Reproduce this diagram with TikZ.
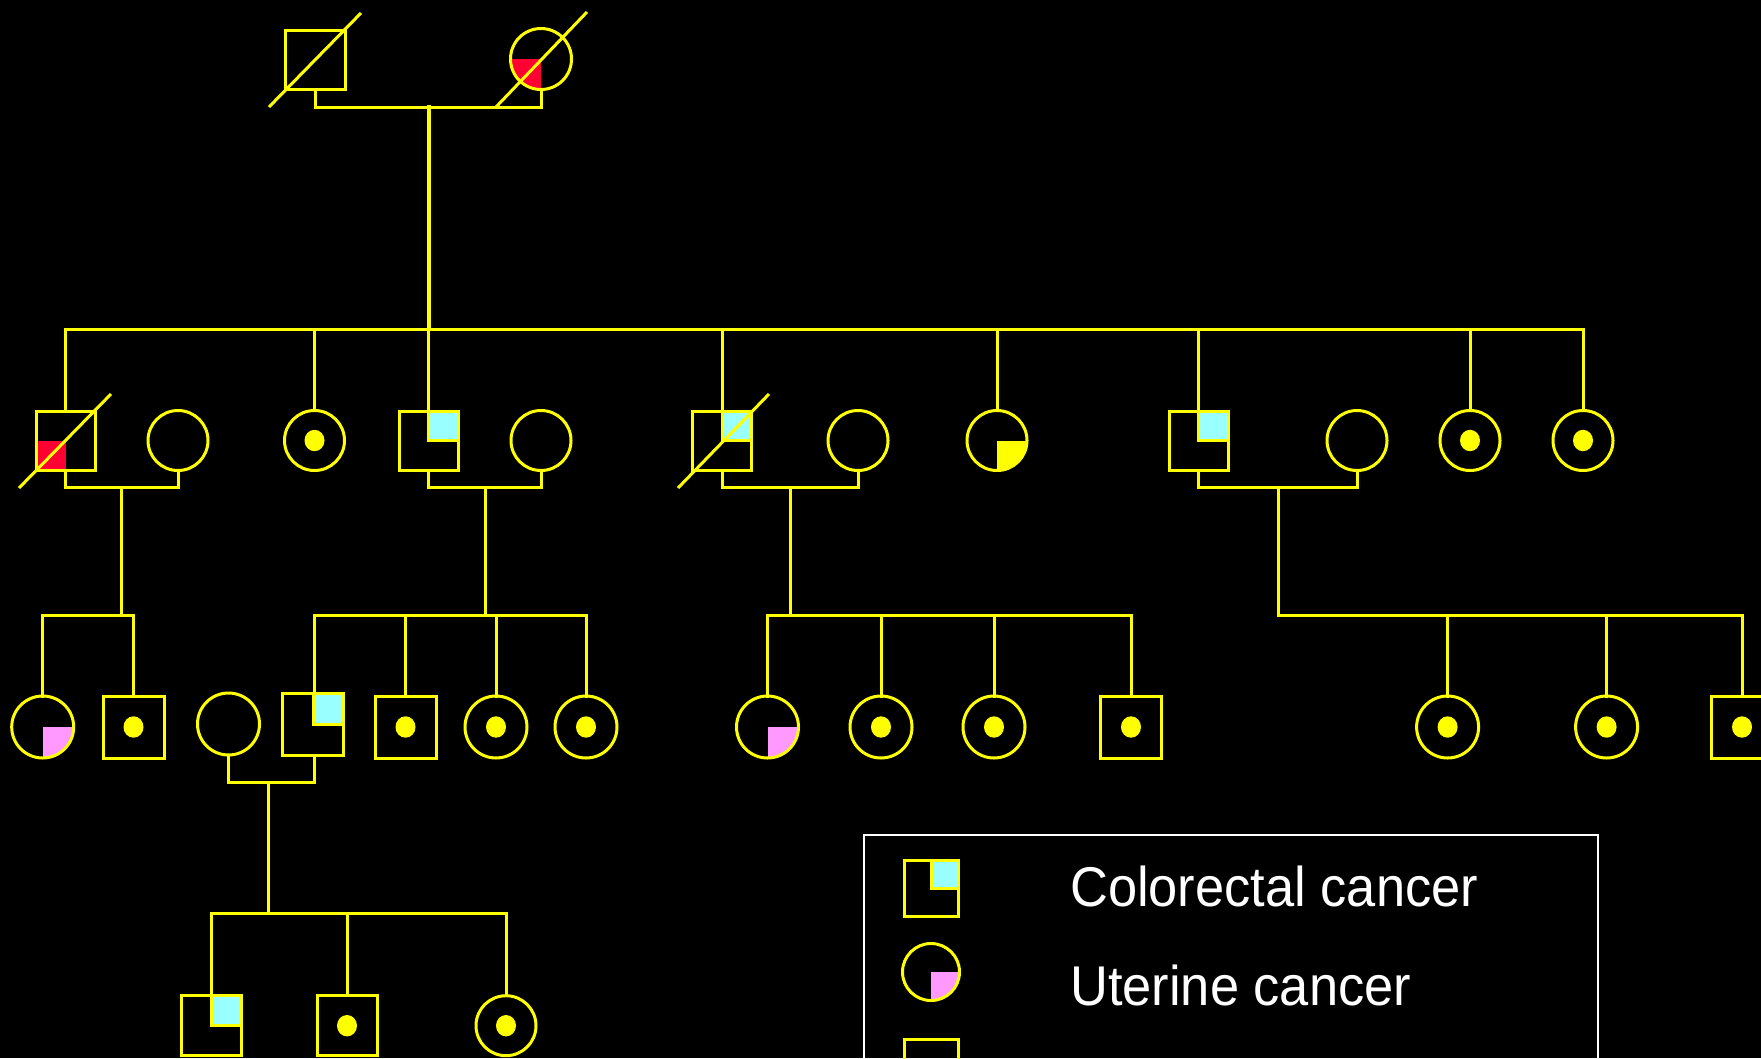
\documentclass[tikz,border=0pt]{standalone}
\usepackage{graphicx}
\usepackage{fontspec}
\newfontfamily\lsans{Liberation Sans}
\definecolor{ylw}{RGB}{255,255,0}
\definecolor{cyanc}{RGB}{153,255,255}
\definecolor{pinkc}{RGB}{255,153,255}
\definecolor{redc}{RGB}{255,0,51}
\begin{document}
\begin{tikzpicture}[x=1pt,y=-1pt,
  ln/.style={draw=ylw,line width=3pt,line cap=rect},
  dec/.style={draw=ylw,line width=3pt},
  base/.style={draw=ylw,line width=3pt,inner sep=0pt,outer sep=0pt},
  sq/.style={base,rectangle,minimum width=59pt,minimum height=59pt},
  ci/.style={base,circle,minimum size=60pt},
  sqb/.style={sq,minimum width=61pt,minimum height=62pt},
  cib/.style={ci,minimum size=62pt},
  affdot/.style={path picture={\fill[ylw] (path picture bounding box.center) circle[x radius=10pt,y radius=10.7pt];}},
  ccUR/.style={path picture={\draw[ylw,line width=3pt,fill=cyanc] (path picture bounding box.center) rectangle (path picture bounding box.north east);}},
  ucLR/.style={path picture={\fill[pinkc] (path picture bounding box.center) rectangle (path picture bounding box.south east);}},
  ylLR/.style={path picture={\fill[ylw] (path picture bounding box.center) rectangle (path picture bounding box.south east);}},
  redLL/.style={path picture={\fill[redc] (path picture bounding box.center) rectangle (path picture bounding box.south west);}},
  legtext/.style={anchor=base west,inner sep=0pt,text=white,font=\lsans\fontsize{56}{60}\selectfont}
]
\path[use as bounding box,fill=black] (0,0) rectangle (1761,1058);
\clip (0,0) rectangle (1761,1058);

% ---------- generation I
\node[sq,minimum width=60pt] (I1) at (315,59.5) {};
\node[ci,minimum size=61pt,redLL] (I2) at (541,59) {};
\draw[dec] ([shift={(-46,47.5)}]I1.center) -- ([shift={(46,-46.5)}]I1.center);
\draw[dec] ([shift={(-45,48)}]I2.center) -- ([shift={(46,-47)}]I2.center);

% ---------- generation II
\node[sq,redLL] (II1) at (65.5,440.5) {};
\node[ci] (II2) at (178,440.5) {};
\node[ci,affdot] (II3) at (314.5,440.5) {};
\node[sq,ccUR] (II4) at (428.5,440.5) {};
\node[ci] (II5) at (541,440.5) {};
\node[sq,ccUR] (II6) at (722,440.5) {};
\node[ci] (II7) at (858,440.5) {};
\node[ci,ylLR] (II8) at (997,440.5) {};
\node[sq,ccUR] (II9) at (1198.5,440.5) {};
\node[ci] (II10) at (1357,440.5) {};
\node[ci,affdot] (II11) at (1470,440.5) {};
\node[ci,affdot] (II12) at (1583,440.5) {};
\draw[dec] ([shift={(-46.5,47.5)}]II1.center) -- ([shift={(45.5,-46.5)}]II1.center);
\draw[dec] ([shift={(-44,47.5)}]II6.center) -- ([shift={(47,-46.5)}]II6.center);

% ---------- generation III
\node[cib,ucLR] (III1) at (42.7,727) {};
\node[sqb,affdot] (III2) at (133.5,727) {};
\node[cib] (III3) at (228.5,724) {};
\node[sqb,ccUR] (III4) at (313,724.5) {};
\node[sqb,affdot] (III5) at (405.5,727) {};
\node[cib,affdot] (III6) at (496,727) {};
\node[cib,affdot] (III7) at (586,727) {};
\node[cib,ucLR] (III8) at (767.5,727) {};
\node[cib,affdot] (III9) at (881,727) {};
\node[cib,affdot] (III10) at (994,727) {};
\node[sqb,affdot] (III11) at (1131,727) {};
\node[cib,affdot] (III12) at (1447.6,727) {};
\node[cib,affdot] (III13) at (1606.6,727) {};
\node[sqb,affdot] (III14) at (1742,727) {};

% ---------- generation IV
\node[sq,minimum width=60pt,minimum height=60pt,ccUR] (IV1) at (211,1025.7) {};
\node[sq,minimum width=60pt,minimum height=60pt,affdot] (IV2) at (347,1025.7) {};
\node[ci,affdot] (IV3) at (506,1025.7) {};

% ---------- connectors
\coordinate (cI) at (429,107);
\coordinate (g2) at (0,329);
\coordinate (g3) at (0,615.5);
\coordinate (g4) at (0,913);
\draw[ln] (I1.south) -- ++(0,18) -| (I2.south);
\draw[ln,line width=4.5pt] (cI) -- (cI |- g2);
\draw[ln] (II1.north |- g2) -- (II12.north |- g2);
\foreach \n in {II1,II3,II4,II6,II8,II9,II11,II12}
  \draw[ln] (\n.north) -- (\n.north |- g2);

\draw[ln] (II1.south) -- ++(0,17.5) -| (II2.south);
\draw[ln] (II4.south) -- ++(0,17.5) -| (II5.south);
\draw[ln] (II6.south) -- ++(0,17.5) -| (II7.south);
\draw[ln] (II9.south) -- ++(0,17.5) -| (II10.south);
\coordinate (cA) at (121.5,488);
\coordinate (cD) at (485,488);
\coordinate (cF) at (790.7,488);
\coordinate (cJ) at (1278.6,488);

\draw[ln] (cA) -- (cA |- g3);
\draw[ln] (III1.north) -- (III1.north |- g3) -- (III2.north |- g3) -- (III2.north);

\draw[ln] (cD) -- (cD |- g3);
\draw[ln] ([xshift=1.5pt]III4.north) -- ([xshift=1.5pt]III4.north |- g3) -- (III7.north |- g3) -- (III7.north);
\foreach \n in {III5,III6}
  \draw[ln] (\n.north) -- (\n.north |- g3);

\draw[ln] (cF) -- (cF |- g3);
\draw[ln] (III8.north) -- (III8.north |- g3) -- (III11.north |- g3) -- (III11.north);
\foreach \n in {III9,III10}
  \draw[ln] (\n.north) -- (\n.north |- g3);

\draw[ln] (cJ) -- (cJ |- g3) -- (III14.north |- g3) -- (III14.north);
\foreach \n in {III12,III13}
  \draw[ln] (\n.north) -- (\n.north |- g3);

\draw[ln] (III3.south) -- ++(0,27) -| ([xshift=1.5pt]III4.south);
\coordinate (cM) at (268,782);
\draw[ln] (cM) -- (cM |- g4);
\draw[ln] (IV1.north) -- (IV1.north |- g4) -- (IV3.north |- g4) -- (IV3.north);
\draw[ln] (IV2.north) -- (IV2.north |- g4);

% ---------- legend
\draw[white,line width=2pt] (863.5,1080) |- (1597.5,834.5) -- (1597.5,1080);
\node[sq,minimum width=54pt,minimum height=56pt,ccUR] (L1) at (931,888) {};
\node[ci,minimum size=57pt,ucLR] (L2) at (931,972) {};
\node[sq,minimum width=54pt,minimum height=54pt] (L3) at (931,1066) {};
\node[legtext] (T1) at (1070,906.7) {\scalebox{0.936}[1]{Colorectal cancer}};
\node[legtext] (T2) at (1070,1005) {\scalebox{0.936}[1]{Uterine cancer}};
\end{tikzpicture}
\end{document}
